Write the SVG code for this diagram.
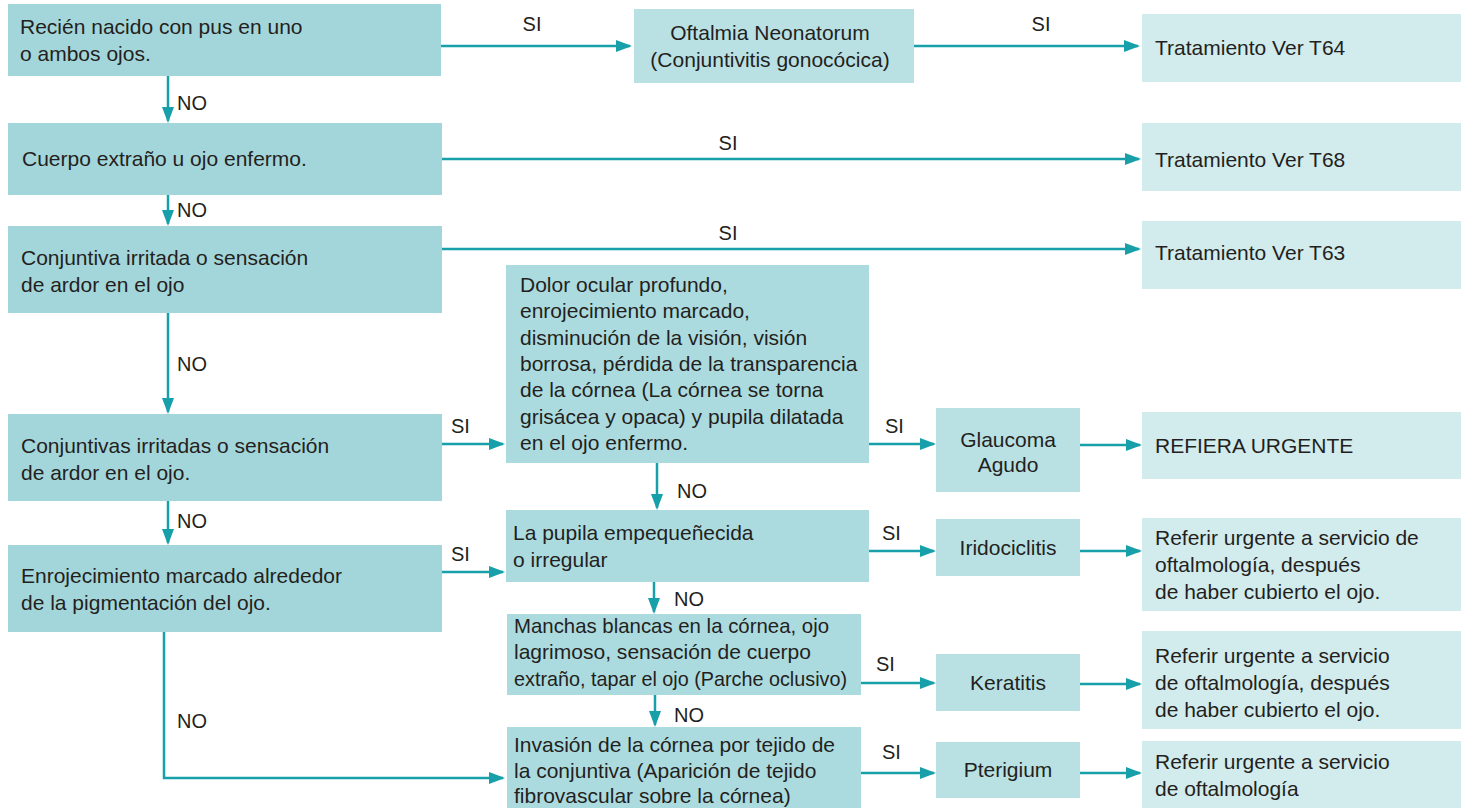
<svg xmlns="http://www.w3.org/2000/svg" width="1461" height="808" viewBox="0 0 1461 808">
<defs>
<style>
.a{fill:#a3d6da}
.b{fill:#acdbdf}
.c{fill:#b9e1e4}
.d{fill:#d2ebed}
text{font-family:"Liberation Sans",Arial,sans-serif;font-size:21px;fill:#231f20}
.m{text-anchor:middle}
.l{font-size:20px}
.ln{fill:none;stroke:#17a0aa;stroke-width:2.5}
</style>
<marker id="ah" markerUnits="userSpaceOnUse" markerWidth="16" markerHeight="12" refX="14" refY="6" orient="auto">
<path d="M0,0 L16,6 L0,12 z" fill="#17a0aa"/>
</marker>
</defs>
<rect width="1461" height="808" fill="#fff"/>
<g id="connectors">
<path class="ln" d="M441,46 H630" marker-end="url(#ah)"/>
<path class="ln" d="M914,46 H1138" marker-end="url(#ah)"/>
<path class="ln" d="M168,76 V121" marker-end="url(#ah)"/>
<path class="ln" d="M442,159 H1139" marker-end="url(#ah)"/>
<path class="ln" d="M168,195 V224" marker-end="url(#ah)"/>
<path class="ln" d="M442,249 H1139" marker-end="url(#ah)"/>
<path class="ln" d="M168,313 V412" marker-end="url(#ah)"/>
<path class="ln" d="M442,444 H503" marker-end="url(#ah)"/>
<path class="ln" d="M168,501 V543" marker-end="url(#ah)"/>
<path class="ln" d="M442,572 H503" marker-end="url(#ah)"/>
<path class="ln" d="M164,632 V778 H503" marker-end="url(#ah)"/>
<path class="ln" d="M869,444 H934" marker-end="url(#ah)"/>
<path class="ln" d="M1080,445 H1140" marker-end="url(#ah)"/>
<path class="ln" d="M657,463 V508" marker-end="url(#ah)"/>
<path class="ln" d="M869,551 H934" marker-end="url(#ah)"/>
<path class="ln" d="M1080,551 H1140" marker-end="url(#ah)"/>
<path class="ln" d="M654,582 V612" marker-end="url(#ah)"/>
<path class="ln" d="M861,683 H934" marker-end="url(#ah)"/>
<path class="ln" d="M1080,684 H1140" marker-end="url(#ah)"/>
<path class="ln" d="M655,695 V725" marker-end="url(#ah)"/>
<path class="ln" d="M861,773 H934" marker-end="url(#ah)"/>
<path class="ln" d="M1080,773 H1140" marker-end="url(#ah)"/>
<text class="l" x="532" y="31" text-anchor="middle">SI</text>
<text class="l" x="1041" y="31" text-anchor="middle">SI</text>
<text class="l" x="728" y="150" text-anchor="middle">SI</text>
<text class="l" x="728" y="240" text-anchor="middle">SI</text>
<text class="l" x="451" y="433">SI</text>
<text class="l" x="451" y="561">SI</text>
<text class="l" x="885" y="433">SI</text>
<text class="l" x="882" y="540">SI</text>
<text class="l" x="876" y="671">SI</text>
<text class="l" x="882" y="759">SI</text>
<text class="l" x="177" y="110">NO</text>
<text class="l" x="177" y="217">NO</text>
<text class="l" x="177" y="371">NO</text>
<text class="l" x="177" y="528">NO</text>
<text class="l" x="177" y="728">NO</text>
<text class="l" x="677" y="498">NO</text>
<text class="l" x="674" y="606">NO</text>
<text class="l" x="674" y="722">NO</text>
</g>
<g id="n1"><rect class="a" x="8" y="4" width="433" height="72"/><text x="20" y="34">Recién nacido con pus en uno</text><text x="20" y="61">o ambos ojos.</text></g>
<g id="n2"><rect class="a" x="8" y="123" width="434" height="72"/><text x="22" y="166">Cuerpo extraño u ojo enfermo.</text></g>
<g id="n3"><rect class="a" x="8" y="226" width="434" height="87"/><text x="21" y="265">Conjuntiva irritada o sensación</text><text x="21" y="292">de ardor en el ojo</text></g>
<g id="n4"><rect class="a" x="8" y="414" width="434" height="87"/><text x="21" y="453">Conjuntivas irritadas o sensación</text><text x="21" y="480">de ardor en el ojo.</text></g>
<g id="n5"><rect class="a" x="8" y="545" width="434" height="87"/><text x="21" y="583">Enrojecimiento marcado alrededor</text><text x="21" y="610">de la pigmentación del ojo.</text></g>
<g id="oftalmia"><rect class="c" x="634" y="9" width="280" height="74"/><text class="m" x="770" y="40">Oftalmia Neonatorum</text><text class="m" x="770" y="67">(Conjuntivitis gonocócica)</text></g>
<g id="t64"><rect class="d" x="1142" y="14" width="319" height="68"/><text x="1155" y="55">Tratamiento Ver T64</text></g>
<g id="t68"><rect class="d" x="1142" y="123" width="319" height="68"/><text x="1155" y="167">Tratamiento Ver T68</text></g>
<g id="t63"><rect class="d" x="1142" y="221" width="319" height="68"/><text x="1155" y="260">Tratamiento Ver T63</text></g>
<g id="dolor"><rect class="b" x="506" y="265" width="363" height="198"/>
<text x="520" y="292">Dolor ocular profundo,</text>
<text x="520" y="318">enrojecimiento marcado,</text>
<text x="520" y="345">disminución de la visión, visión</text>
<text x="520" y="371">borrosa, pérdida de la transparencia</text>
<text x="520" y="397">de la córnea (La córnea se torna</text>
<text x="520" y="424">grisácea y opaca) y pupila dilatada</text>
<text x="520" y="450">en el ojo enfermo.</text></g>
<g id="glaucoma"><rect class="c" x="936" y="408" width="144" height="84"/><text class="m" x="1008" y="447">Glaucoma</text><text class="m" x="1008" y="472">Agudo</text></g>
<g id="refiera"><rect class="d" x="1142" y="412" width="319" height="67"/><text x="1155" y="453">REFIERA URGENTE</text></g>
<g id="pupila"><rect class="b" x="506" y="510" width="363" height="72"/><text x="513" y="540">La pupila empequeñecida</text><text x="513" y="567">o irregular</text></g>
<g id="iridociclitis"><rect class="c" x="936" y="519" width="144" height="57"/><text class="m" x="1008" y="555">Iridociclitis</text></g>
<g id="ref1"><rect class="d" x="1142" y="518" width="319" height="93"/><text x="1155" y="545">Referir urgente a servicio de</text><text x="1155" y="572">oftalmología, después</text><text x="1155" y="599">de haber cubierto el ojo.</text></g>
<g id="manchas"><rect class="b" x="507" y="614" width="354" height="81"/><text x="514" y="633" textLength="315" lengthAdjust="spacingAndGlyphs">Manchas blancas en la córnea, ojo</text><text x="514" y="659" textLength="297" lengthAdjust="spacingAndGlyphs">lagrimoso, sensación de cuerpo</text><text x="514" y="686" textLength="333" lengthAdjust="spacingAndGlyphs">extraño, tapar el ojo (Parche oclusivo)</text></g>
<g id="keratitis"><rect class="c" x="936" y="654" width="144" height="57"/><text class="m" x="1008" y="690">Keratitis</text></g>
<g id="ref2"><rect class="d" x="1142" y="631" width="319" height="98"/><text x="1155" y="663">Referir urgente a servicio</text><text x="1155" y="690">de oftalmología, después</text><text x="1155" y="717">de haber cubierto el ojo.</text></g>
<g id="invasion"><rect class="b" x="507" y="727" width="354" height="81"/><text x="514" y="752">Invasión de la córnea por tejido de</text><text x="514" y="778">la conjuntiva (Aparición de tejido</text><text x="514" y="803">fibrovascular sobre la córnea)</text></g>
<g id="pterigium"><rect class="c" x="936" y="742" width="144" height="56"/><text class="m" x="1008" y="777">Pterigium</text></g>
<g id="ref3"><rect class="d" x="1142" y="741" width="319" height="67"/><text x="1155" y="769">Referir urgente a servicio</text><text x="1155" y="796">de oftalmología</text></g>
</svg>
